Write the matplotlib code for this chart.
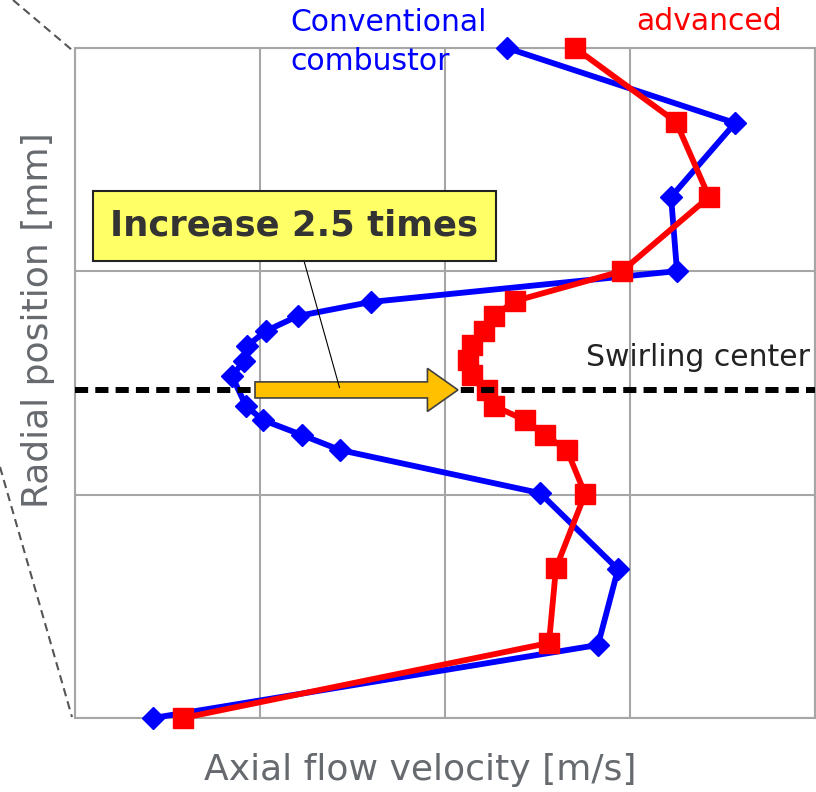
import matplotlib
matplotlib.use("Agg")
import matplotlib.pyplot as plt
from matplotlib.patches import FancyArrow
from matplotlib.lines import Line2D

# radial position [mm] and axial velocity (arbitrary units)
conv_y = [30.0, 26.64, 23.33, 20.01, 18.63, 18.0, 17.33, 16.66, 15.99, 15.31,
          13.97, 13.34, 12.67, 12.0, 10.07, 6.66, 3.27, 0.0]
conv_v = [2.335, 3.568, 3.222, 3.254, 1.60, 1.205, 1.032, 0.930, 0.914, 0.849,
          0.924, 1.016, 1.227, 1.432, 2.514, 2.935, 2.827, 0.422]

adv_y = [30.0, 26.69, 23.33, 20.01, 18.67, 18.0, 17.33, 16.70, 16.03, 15.36,
         14.69, 13.97, 13.34, 12.67, 12.0, 10.03, 6.72, 3.36, 0.0]
adv_v = [2.703, 3.249, 3.427, 2.957, 2.378, 2.265, 2.211, 2.146, 2.124, 2.146,
         2.227, 2.265, 2.432, 2.541, 2.659, 2.757, 2.60, 2.562, 0.584]

swirl_y = 14.69
arrow_from = 0.973
arrow_to = 2.07

fig = plt.figure(figsize=(8.16, 7.92), dpi=100)
ax = fig.add_axes([75/816, 74/792, 740/816, 670/792])

ax.set_xlim(0, 4)
ax.set_ylim(0, 30)
ax.set_xticks([0, 1, 2, 3, 4])
ax.set_yticks([0, 10, 20, 30])
ax.tick_params(length=0, labelbottom=False, labelleft=False)
ax.grid(True, color="#a6a6a6", lw=1.5)
for s in ax.spines.values():
    s.set_color("#a6a6a6")
    s.set_linewidth(1.5)
ax.set_axisbelow(True)

ax.plot(conv_v, conv_y, color="#0000ff", lw=4.2, marker="D", ms=11.5,
        clip_on=False, zorder=3)
ax.plot(adv_v, adv_y, color="#ff0000", lw=4.2, marker="s", ms=14.5,
        clip_on=False, zorder=4)

ax.axhline(swirl_y, color="black", lw=4.3, ls=(0, (2.2, 1.2)), zorder=5)

arr = FancyArrow(arrow_from, swirl_y, arrow_to - arrow_from, 0,
                 width=0.72, head_width=1.93, head_length=0.165,
                 length_includes_head=True, facecolor="#ffc000",
                 edgecolor="#404040", lw=1.2, zorder=6)
ax.add_patch(arr)

# callout box
ax.annotate("Increase 2.5 times", xy=(1.43, swirl_y + 0.1), xytext=(1.185, 22.03),
            ha="center", va="center", fontsize=25.5, fontweight="bold",
            color="#333333",
            bbox=dict(boxstyle="square,pad=0.5", fc="#ffff66", ec="#222222", lw=1.5),
            arrowprops=dict(arrowstyle="-", color="black", lw=0.8,
                            shrinkA=0, shrinkB=0),
            zorder=7)

ax.text(3.973, 16.16, "Swirling center", ha="right", va="center",
        fontsize=21.5, color="#222222", zorder=7)

fig.text(290/816, 1 - 42/792, "Conventional\ncombustor", ha="left", va="center",
         fontsize=21.5, color="#0000ff", linespacing=1.4)
fig.text(636/816, 1 - 22/792, "advanced", ha="left", va="center",
         fontsize=21.5, color="#ff0000")

fig.text(420/816, 1 - 770/792, "Axial flow velocity [m/s]", ha="center", va="center",
         fontsize=26, color="#666a6e")
fig.text(38/816, 1 - 320/792, "Radial position [mm]", ha="center", va="center",
         rotation=90, fontsize=26, color="#666a6e")

# zoom guide lines on the left
fig.add_artist(Line2D([13/816, 72/816], [1, 1 - 50/792], transform=fig.transFigure,
                      color="#555555", lw=1.5, ls=(0, (4, 2.5))))
fig.add_artist(Line2D([0, 72/816], [1 - 467/792, 1 - 717/792], transform=fig.transFigure,
                      color="#555555", lw=1.5, ls=(0, (4, 2.5))))

fig.savefig("out.png", dpi=100)
